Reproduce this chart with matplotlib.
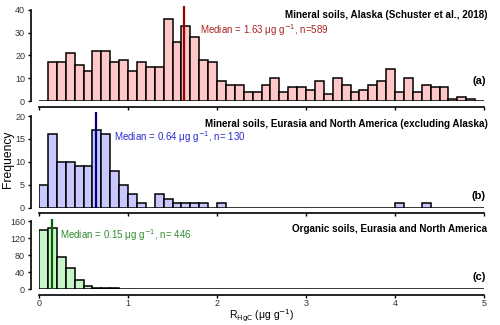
import numpy as np
import matplotlib
matplotlib.use("Agg")
import matplotlib.pyplot as plt

plt.rcParams['font.family'] = ['Liberation Sans', 'DejaVu Sans']

bin_width = 0.1
# Panel (a): Mineral soils, Alaska -- counts for bins starting at 0.0, 0.1, ... 4.9
counts_a = [0, 17, 17, 21, 16, 13, 22, 22, 17, 18,
            13, 17, 15, 15, 36, 26, 33, 28, 18, 17,
            9, 7, 7, 4, 4, 7, 10, 4, 6, 6,
            5, 9, 3, 10, 7, 4, 5, 7, 9, 14,
            4, 10, 4, 7, 6, 6, 1, 2, 1, 0]
# Panel (b): Mineral soils, Eurasia and North America (excluding Alaska)
counts_b = [5, 16, 10, 10, 9, 9, 17, 16, 8, 5,
            3, 1, 0, 3, 2, 1, 1, 1, 1, 0,
            1, 0, 0, 0, 0, 0, 0, 0, 0, 0,
            0, 0, 0, 0, 0, 0, 0, 0, 0, 0,
            1, 0, 0, 1, 0, 0, 0, 0, 0, 0]
# Panel (c): Organic soils, Eurasia and North America
counts_c = [140, 143, 75, 49, 22, 8, 3, 4, 2, 0,
            0, 0, 0, 0, 0, 0, 0, 0, 0, 0,
            0, 0, 0, 0, 0, 0, 0, 0, 0, 0,
            0, 0, 0, 0, 0, 0, 0, 0, 0, 0,
            0, 0, 0, 0, 0, 0, 0, 0, 0, 0]

medians = [1.63, 0.64, 0.15]
titles = ["Mineral soils, Alaska (Schuster et al., 2018)",
          "Mineral soils, Eurasia and North America (excluding Alaska)",
          "Organic soils, Eurasia and North America"]
median_texts = ["Median = 1.63 \u03bcg g$^{-1}$, n=589",
                "Median = 0.64 \u03bcg g$^{-1}$, n= 130",
                "Median = 0.15 \u03bcg g$^{-1}$, n= 446"]
panel_labels = ["(a)", "(b)", "(c)"]
yticks_list = [[0, 10, 20, 30, 40], [0, 5, 10, 15, 20], [0, 40, 80, 120, 160]]
xticks = [0, 1, 2, 3, 4, 5]

fills = ["#ffc8c8", "#c8c8ff", "#c8f5c8"]
line_cols = ["#990000", "#00008b", "#006400"]
text_cols = ["#aa2222", "#2a2ad0", "#2e8b2e"]

boxes = [(0.689, 0.984), (0.361, 0.657), (0.110, 0.330)]
ylims = [42, 21, 168]
med_tops = [41.5, 20.8, 166]
med_text_pos = [(1.81, 31), (0.845, 15.3), (0.236, 127)]
title_y = [37.7, 18.2, 141]
label_y = [8.8, 2.5, 29.5]

fig = plt.figure(figsize=(5, 3.25), dpi=100)
left, width = 0.078, 0.89
all_counts = [counts_a, counts_b, counts_c]
edges = np.arange(len(counts_a)) * bin_width

for i in range(3):
    b, t = boxes[i]
    ax = fig.add_axes([left, b, width, t - b])
    ax.bar(edges, all_counts[i], width=bin_width, align='edge',
           color=fills[i], edgecolor='black', linewidth=1.1, zorder=2)
    ax.vlines(medians[i], 0, med_tops[i], color=line_cols[i], lw=1.6, zorder=3)
    ax.set_xlim(0, 5.0)
    ax.set_ylim(0, ylims[i])
    for s in ['top', 'right']:
        ax.spines[s].set_visible(False)
    ax.spines['left'].set_position(('outward', 6))
    ax.spines['bottom'].set_position(('outward', 4))
    ax.spines['left'].set_bounds(0, yticks_list[i][-1])
    ax.spines['bottom'].set_bounds(0, 5)
    ax.spines['left'].set_linewidth(1.2)
    ax.spines['bottom'].set_linewidth(1.2)
    ax.set_yticks(yticks_list[i])
    ax.set_xticks(xticks)
    ax.tick_params(axis='both', direction='out', length=2.5, width=1.0,
                   labelsize=6.5, pad=1.5, colors='black', labelcolor='#333333')
    ax.tick_params(axis='x', pad=0.5)
    if i < 2:
        ax.set_xticklabels([])
    ax.text(med_text_pos[i][0], med_text_pos[i][1], median_texts[i],
            color=text_cols[i], fontsize=7, ha='left', va='center')
    ax.text(5.04, title_y[i], titles[i], fontsize=7.1, fontweight='bold',
            ha='right', va='center', color='black')
    ax.text(5.02, label_y[i], panel_labels[i], fontsize=8, fontweight='bold',
            ha='right', va='center')
    if i == 1:
        ax.set_ylabel("Frequency", fontsize=8.7, labelpad=1)
    if i == 2:
        ax.set_xlabel("R$_{\\mathrm{HgC}}$ (\u03bcg g$^{-1}$)", fontsize=7.5, labelpad=0)

fig.savefig("out.png", dpi=100)
